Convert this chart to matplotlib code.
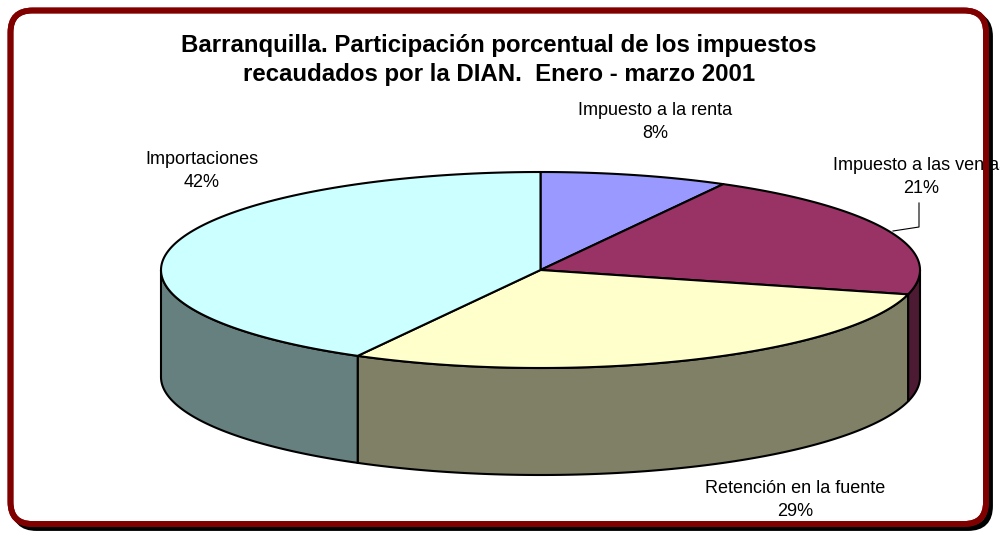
import numpy as np
import matplotlib.pyplot as plt
from matplotlib.patches import Polygon, FancyBboxPatch

plt.rcParams['font.family'] = ['Liberation Sans', 'DejaVu Sans']

# data
categories = ["Impuesto a la renta", "Impuesto a las ventas",
              "Retención en la fuente", "Importaciones"]
shares = [8, 21, 29, 42]
topColors = ["#9999FF", "#993366", "#FFFFCC", "#CCFFFF"]
sideColors = ["#5C5C99", "#4D1A33", "#808066", "#668080"]
title = "Barranquilla. Participación porcentual de los impuestos\nrecaudados por la DIAN.  Enero - marzo 2001"

# layout in pixel units
cx, cy = 540.5, 270.0
rx, ry = 379.5, 98.0
depth = 107.0
labelPos = [(655, 122), (921, 177), (795, 500), (202, 171)]

fig = plt.figure(figsize=(10, 5.38), dpi=100)
ax = fig.add_axes([0, 0, 1, 1])
ax.set_xlim(0, 1000)
ax.set_ylim(538, 0)
ax.axis("off")

# frame with shadow
box = dict(boxstyle="round,pad=0,rounding_size=22", lw=4.2)
ax.add_patch(FancyBboxPatch((14.5, 14.5), 975.5, 513.5, fc="none",
                            ec="black", zorder=1, **box))
ax.add_patch(FancyBboxPatch((10.5, 10.5), 975.5, 513.5, fc="white",
                            ec="#800000", zorder=2, **box))
ax.add_patch(FancyBboxPatch((10.5, 10.5), 975.5, 513.5, fc="none",
                            ec="#800000", zorder=20, **box))


def ellipse_pts(a0, a1, yoff=0.0, n=120):
    t = np.deg2rad(np.linspace(a0, a1, n))
    return np.column_stack([cx + rx * np.cos(t), cy + yoff - ry * np.sin(t)])


fractions = np.array(shares, dtype=float) / np.sum(shares)
ends = 90 - np.cumsum(fractions) * 360
starts = np.concatenate([[90], ends[:-1]])

# side walls (front half only)
for a_start, a_end, sc in zip(starts, ends, sideColors):
    for shift in (0, -360):
        lo = max(a_end, -180 + shift)
        hi = min(a_start, 0 + shift)
        if hi <= lo:
            continue
        top = ellipse_pts(lo, hi)
        bot = ellipse_pts(hi, lo, depth)
        ax.add_patch(Polygon(np.vstack([top, bot]), closed=True, fc=sc,
                             ec="black", lw=1.5, zorder=5))

# top faces
for a_start, a_end, tc in zip(starts, ends, topColors):
    arc = ellipse_pts(a_start, a_end)
    pts = np.vstack([[cx, cy], arc])
    ax.add_patch(Polygon(pts, closed=True, fc=tc, ec="black", lw=1.5,
                         joinstyle="round", zorder=6))

# labels
for (lx, ly), name, pct in zip(labelPos, categories, shares):
    ax.text(lx, ly, f"{name}\n{pct}%", ha="center", va="center",
            fontsize=13, linespacing=1.5, color="black", zorder=10)

# leader line for ventas label
ax.plot([919, 919, 893], [203, 227, 231], color="black", lw=0.8, zorder=10)

ax.text(499, 60, title, ha="center", va="center", fontsize=17.3,
        fontweight="bold", linespacing=1.35, zorder=10)

fig.savefig("out.png", dpi=100)
